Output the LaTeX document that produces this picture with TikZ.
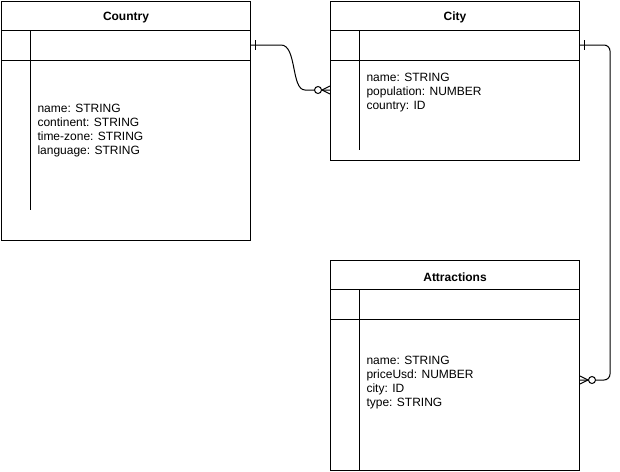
\documentclass[tikz,border=0pt]{standalone}
\usepackage{fontspec}
\setmainfont{Liberation Sans}
\usetikzlibrary{calc}
\usetikzlibrary{positioning}

\begin{document}
\begin{tikzpicture}[x=1pt, y=-1pt, line width=1pt,
  every node/.style={font=\fontsize{12}{14}\selectfont},
  tbl/.style={draw, minimum width=249pt, anchor=north west, inner sep=0pt},
  head/.style={font=\fontsize{12}{14}\selectfont\bfseries},
  attr/.style={anchor=west, align=left, inner sep=0pt}]
\useasboundingbox (0,0) rectangle (620,471);

% tables
\node[tbl, minimum height=239pt] (country) at (1,1) {};
\node[tbl, minimum height=159pt] (city) at (330,1) {};
\node[tbl, minimum height=210pt] (attractions) at (330,260) {};

\foreach \t/\e in {country/209, city/149, attractions/210} {
 \draw ($(\t.north west)+(0,29)$) -- ($(\t.north east)+(0,29)$);
 \draw ($(\t.north west)+(0,59)$) -- ($(\t.north east)+(0,59)$);
 \draw ($(\t.north west)+(29,29)$) -- ($(\t.north west)+(29,\e)$);
}

\node[head] (countrytitle) at ($(country.north)+(0,16.5)$) {Country};
\node[head] (citytitle) at ($(city.north)+(0,16.5)$) {City};
\node[head] (attractionstitle) at ($(attractions.north)+(0,17)$) {Attractions};

\node[attr] (countryattr) at ($(country.north west)+(36,130)$)
 {name: STRING\\continent: STRING\\time-zone: STRING\\language: STRING};
\node[attr] (cityattr) at ($(city.north west)+(36,91.5)$)
 {name: STRING\\population: NUMBER\\country: ID};
\node[attr] (attractionsattr) at ($(attractions.north west)+(36,122.5)$)
 {name: STRING\\priceUsd: NUMBER\\city: ID\\type: STRING};

% relations
\coordinate (countryrel) at ($(country.north east)+(0,44)$);
\coordinate (cityin) at ($(city.north west)+(0,89)$);
\coordinate (cityrel) at ($(city.north east)+(0,44)$);
\coordinate (attractionsin) at ($(attractions.north east)+(0,120)$);

\draw (countryrel) -- ++(30,0) .. controls +(16,0) and +(-14,0) .. ($(cityin)+(-25,0)$) -- (cityin);
\draw[rounded corners=6pt] (cityrel) -- ++(30,0) |- (attractionsin);

% one
\draw ($(countryrel)+(4,-5)$) -- ++(0,10);
\draw ($(cityrel)+(4,-5)$) -- ++(0,10);
% zero or many
\draw ($(cityin)+(-8,0)$) -- ($(cityin)+(0,-4)$) ($(cityin)+(-8,0)$) -- ($(cityin)+(0,4)$);
\draw[fill=white] ($(cityin)+(-12,0)$) circle (3.5pt);
\draw ($(attractionsin)+(8,0)$) -- ($(attractionsin)+(0,-4)$) ($(attractionsin)+(8,0)$) -- ($(attractionsin)+(0,4)$);
\draw[fill=white] ($(attractionsin)+(12,0)$) circle (3.5pt);
\end{tikzpicture}
\end{document}
